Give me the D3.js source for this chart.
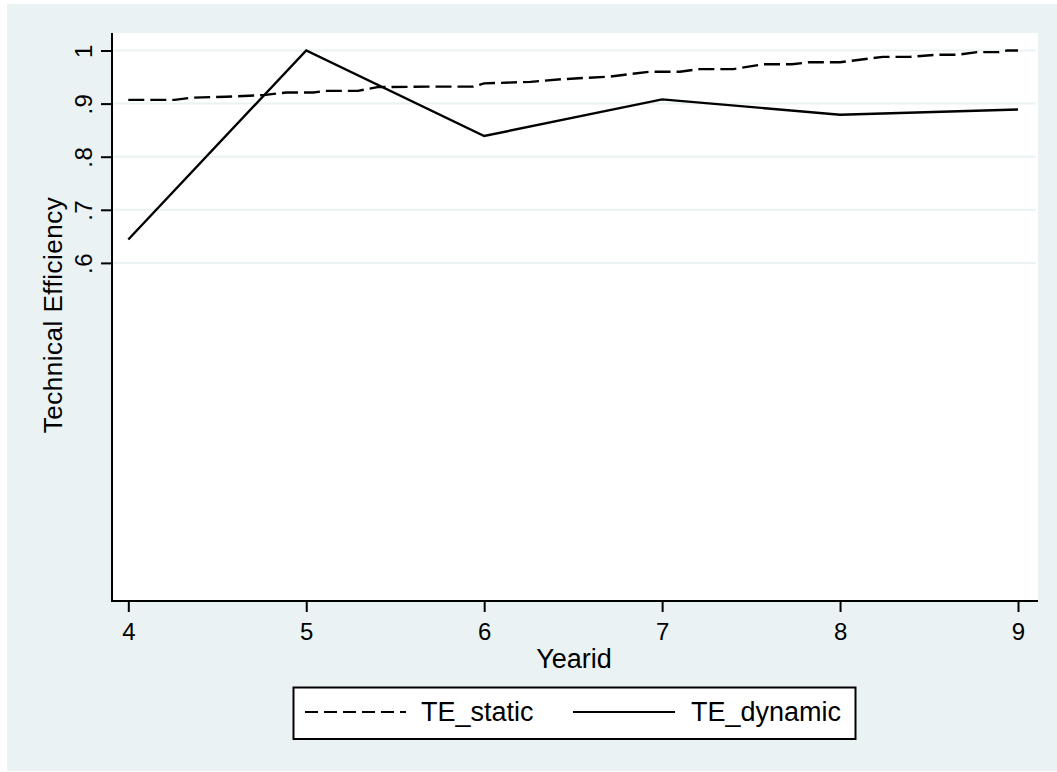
<!DOCTYPE html>
<html>
<head>
<meta charset="utf-8">
<script src="https://cdn.jsdelivr.net/npm/d3@7"></script>
<style>
  body { margin: 0; background: #fff; }
  svg { display: block; font-family: "Liberation Sans", Arial, sans-serif; }
</style>
</head>
<body>
<svg id="chart" width="1057" height="772"></svg>
<script>
(function () {

    // data
    var years = [4, 5, 6, 7, 8, 9],
        teDynamic = [0.644, 1.0, 0.839, 0.908, 0.879, 0.889],
        staticYear = [4.00, 4.26, 4.35, 4.55, 4.76, 4.89, 5.04, 5.11, 5.29, 5.40, 5.69, 5.94,
                      6.00, 6.26, 6.44, 6.71, 6.93, 7.10, 7.21, 7.40, 7.57, 7.73, 7.83, 8.00,
                      8.24, 8.39, 8.54, 8.66, 8.77, 8.89, 8.94, 9.00],
        teStatic = [0.907, 0.907, 0.911, 0.913, 0.916, 0.921, 0.921, 0.924, 0.924, 0.931, 0.932, 0.932,
                    0.938, 0.941, 0.946, 0.951, 0.960, 0.960, 0.965, 0.965, 0.974, 0.974, 0.978, 0.978,
                    0.988, 0.988, 0.992, 0.992, 0.997, 0.997, 1.000, 1.000],
        yTicks = [0.6, 0.7, 0.8, 0.9, 1],
        seriesNames = ["TE_static", "TE_dynamic"];

    var svg = d3.select("#chart"),
        bg = "#eaf2f3",
        plot = { left: 112, right: 1038, top: 33, bottom: 601 };

    var x = d3.scaleLinear().domain([4, 9]).range([128.3, 1018]),
        y = d3.scaleLinear().domain([0, 1]).range([581.5, 50.5]);

    svg.append("rect")
        .attr("x", 7).attr("y", 4)
        .attr("width", 1050).attr("height", 767)
        .attr("fill", bg);

    svg.append("rect")
        .attr("x", plot.left).attr("y", plot.top)
        .attr("width", plot.right - plot.left).attr("height", plot.bottom - plot.top)
        .attr("fill", "#fff");

    // grid
    svg.append("g")
        .selectAll("line")
        .data(yTicks)
        .enter().append("line")
            .attr("x1", plot.left).attr("x2", plot.right - 2)
            .attr("y1", function (d) { return y(d); })
            .attr("y2", function (d) { return y(d); })
            .attr("stroke", bg)
            .attr("stroke-width", 2);

    var fmt = function (d) { return d === 1 ? "1" : d3.format(".1f")(d).replace(/^0/, ""); };

    // y axis
    var yAxis = svg.append("g")
        .attr("transform", "translate(" + plot.left + ",0)")
        .call(d3.axisLeft(y).tickValues(yTicks).tickFormat(fmt).tickSize(11).tickSizeOuter(0));
    yAxis.select(".domain").remove();
    yAxis.append("line")
        .attr("x1", 0).attr("x2", 0)
        .attr("y1", plot.top).attr("y2", plot.bottom + 1)
        .attr("stroke", "#000").attr("stroke-width", 2);
    yAxis.selectAll(".tick line").attr("stroke", "#000").attr("stroke-width", 2);
    yAxis.selectAll(".tick text")
        .attr("x", null).attr("dy", null)
        .attr("text-anchor", "middle")
        .attr("transform", "translate(-20,0) rotate(-90)")
        .attr("font-size", 24)
        .attr("letter-spacing", 0.5)
        .attr("fill", "#000");

    // x axis
    var xAxis = svg.append("g")
        .attr("transform", "translate(0," + plot.bottom + ")")
        .call(d3.axisBottom(x).tickValues(years).tickFormat(d3.format("d")).tickSize(11).tickSizeOuter(0));
    xAxis.select(".domain").remove();
    xAxis.append("line")
        .attr("x1", plot.left - 1).attr("x2", plot.right)
        .attr("y1", 0).attr("y2", 0)
        .attr("stroke", "#000").attr("stroke-width", 2);
    xAxis.selectAll(".tick line").attr("stroke", "#000").attr("stroke-width", 2);
    xAxis.selectAll(".tick text")
        .attr("y", 39).attr("dy", null)
        .attr("font-size", 24)
        .attr("fill", "#000");

    // axis titles
    svg.append("text")
        .attr("transform", "translate(62," + ((plot.top + plot.bottom) / 2 - 2) + ") rotate(-90)")
        .attr("text-anchor", "middle")
        .attr("font-size", 26)
        .attr("letter-spacing", 0.5)
        .text("Technical Efficiency");

    svg.append("text")
        .attr("x", (plot.left + plot.right) / 2 - 1)
        .attr("y", 668)
        .attr("text-anchor", "middle")
        .attr("font-size", 27)
        .text("Yearid");

    // lines
    var line = d3.line()
        .x(function (d) { return x(d[0]); })
        .y(function (d) { return y(d[1]); });

    svg.append("path")
        .datum(d3.zip(staticYear, teStatic))
        .attr("fill", "none")
        .attr("stroke", "#000")
        .attr("stroke-width", 2.4)
        .attr("stroke-dasharray", "16,6")
        .attr("d", line);

    svg.append("path")
        .datum(d3.zip(years, teDynamic))
        .attr("fill", "none")
        .attr("stroke", "#000")
        .attr("stroke-width", 2.4)
        .attr("stroke-linejoin", "miter")
        .attr("d", line);

    // legend
    var legend = svg.append("g");
    legend.append("rect")
        .attr("x", 293.5).attr("y", 687.5)
        .attr("width", 562).attr("height", 51.5)
        .attr("fill", "#fff")
        .attr("stroke", "#000")
        .attr("stroke-width", 2);

    var items = [
        { name: seriesNames[0], x1: 305, x2: 406, tx: 421, dash: "13,6" },
        { name: seriesNames[1], x1: 573, x2: 675, tx: 691, dash: null }
    ];
    legend.selectAll("line.key")
        .data(items)
        .enter().append("line")
            .attr("class", "key")
            .attr("x1", function (d) { return d.x1; })
            .attr("x2", function (d) { return d.x2; })
            .attr("y1", 712).attr("y2", 712)
            .attr("stroke", "#000")
            .attr("stroke-width", 2)
            .attr("stroke-dasharray", function (d) { return d.dash; });
    legend.selectAll("text")
        .data(items)
        .enter().append("text")
            .attr("x", function (d) { return d.tx; })
            .attr("y", 721)
            .attr("font-size", 27)
            .text(function (d) { return d.name; });

}());
</script>
</body>
</html>
